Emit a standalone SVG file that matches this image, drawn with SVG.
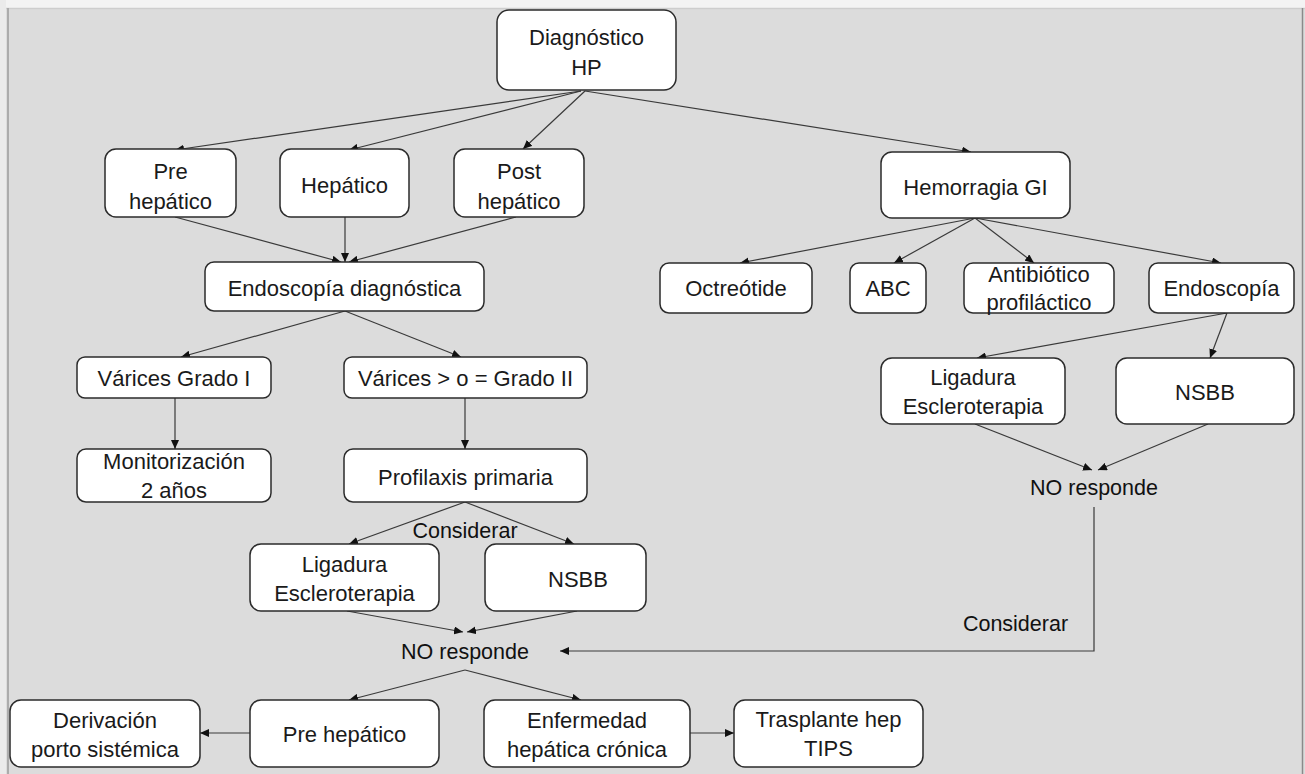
<svg xmlns="http://www.w3.org/2000/svg" width="1305" height="774" viewBox="0 0 1305 774">
<defs>
<style>
.box{fill:#ffffff;stroke:#2b2b2b;stroke-width:1.5}
.t{font-family:"Liberation Sans",Arial,sans-serif;font-size:22px;fill:#1a1a1a;text-anchor:middle}
.l{font-family:"Liberation Sans",Arial,sans-serif;font-size:21.5px;fill:#111;text-anchor:middle}
.c{fill:none;stroke:#3a3a3a;stroke-width:1.2}
</style>
<marker id="ah" markerUnits="userSpaceOnUse" markerWidth="10" markerHeight="8" refX="9" refY="4" orient="auto">
<path d="M0,0 L9,4 L0,8 z" fill="#111"/>
</marker>
</defs>
<rect x="0" y="0" width="1305" height="774" fill="#dcdcdc"/>
<rect x="0" y="0" width="1305" height="8" fill="#f3f3f3"/>
<line x1="0" y1="8.5" x2="1305" y2="8.5" stroke="#cdcdcd" stroke-width="1.5"/>
<rect x="0" y="0" width="6" height="774" fill="#ebebeb"/>
<line x1="8" y1="8" x2="8" y2="774" stroke="#acacac" stroke-width="2"/>
<line x1="1302.5" y1="8" x2="1302.5" y2="774" stroke="#8a8a8a" stroke-width="1.5"/>

<g id="connectors">
<line class="c" x1="581" y1="91" x2="175" y2="150" marker-end="url(#ah)"/>
<line class="c" x1="581" y1="91" x2="349" y2="150" marker-end="url(#ah)"/>
<line class="c" x1="585" y1="91" x2="523" y2="149" marker-end="url(#ah)"/>
<line class="c" x1="585" y1="91" x2="971" y2="152" marker-end="url(#ah)"/>
<line class="c" x1="175" y1="217" x2="341" y2="262" marker-end="url(#ah)"/>
<line class="c" x1="345" y1="217" x2="345" y2="262" marker-end="url(#ah)"/>
<line class="c" x1="516" y1="217" x2="349" y2="262" marker-end="url(#ah)"/>
<line class="c" x1="975" y1="218" x2="740" y2="263" marker-end="url(#ah)"/>
<line class="c" x1="975" y1="218" x2="894" y2="263" marker-end="url(#ah)"/>
<line class="c" x1="975" y1="218" x2="1034" y2="263" marker-end="url(#ah)"/>
<line class="c" x1="975" y1="218" x2="1221" y2="263" marker-end="url(#ah)"/>
<line class="c" x1="345" y1="311" x2="181" y2="357" marker-end="url(#ah)"/>
<line class="c" x1="345" y1="311" x2="461" y2="357" marker-end="url(#ah)"/>
<line class="c" x1="175" y1="398" x2="175" y2="449" marker-end="url(#ah)"/>
<line class="c" x1="465" y1="398" x2="465" y2="449" marker-end="url(#ah)"/>
<line class="c" x1="1227" y1="313" x2="977" y2="358" marker-end="url(#ah)"/>
<line class="c" x1="1227" y1="313" x2="1210" y2="358" marker-end="url(#ah)"/>
<line class="c" x1="975" y1="424" x2="1092" y2="470" marker-end="url(#ah)"/>
<line class="c" x1="1208" y1="424" x2="1098" y2="470" marker-end="url(#ah)"/>
<line class="c" x1="465" y1="502" x2="349" y2="544" marker-end="url(#ah)"/>
<line class="c" x1="465" y1="502" x2="574" y2="544" marker-end="url(#ah)"/>
<line class="c" x1="347" y1="611" x2="463" y2="632" marker-end="url(#ah)"/>
<line class="c" x1="577" y1="611" x2="467" y2="632" marker-end="url(#ah)"/>
<polyline class="c" points="1094,507 1094,651 560,651" marker-end="url(#ah)"/>
<line class="c" x1="465" y1="670" x2="349" y2="700" marker-end="url(#ah)"/>
<line class="c" x1="465" y1="670" x2="581" y2="700" marker-end="url(#ah)"/>
<line class="c" x1="250" y1="733" x2="200" y2="733" marker-end="url(#ah)"/>
<line class="c" x1="690" y1="733" x2="734" y2="733" marker-end="url(#ah)"/>
</g>

<g id="diag"><rect class="box" x="497" y="10" width="179" height="80" rx="12"/><text class="t" x="586.5" y="45">Diagnóstico</text><text class="t" x="586.5" y="75">HP</text></g>
<g id="pre"><rect class="box" x="105" y="149" width="131" height="68" rx="11"/><text class="t" x="170.5" y="179">Pre</text><text class="t" x="170.5" y="209">hepático</text></g>
<g id="hep"><rect class="box" x="280" y="149" width="129" height="68" rx="11"/><text class="t" x="344.5" y="193">Hepático</text></g>
<g id="post"><rect class="box" x="454" y="149" width="130" height="68" rx="11"/><text class="t" x="519" y="179">Post</text><text class="t" x="519" y="209">hepático</text></g>
<g id="hemo"><rect class="box" x="881" y="152" width="189" height="66" rx="11"/><text class="t" x="975.5" y="195">Hemorragia GI</text></g>
<g id="endo_diag"><rect class="box" x="205" y="262" width="279" height="49" rx="9"/><text class="t" x="344.5" y="296">Endoscopía diagnóstica</text></g>
<g id="octreo"><rect class="box" x="660" y="263" width="152" height="50" rx="9"/><text class="t" x="736" y="296">Octreótide</text></g>
<g id="abc"><rect class="box" x="850" y="263" width="76" height="50" rx="9"/><text class="t" x="888" y="296">ABC</text></g>
<g id="antibio"><rect class="box" x="964" y="263" width="150" height="50" rx="9"/><text class="t" x="1039" y="282">Antibiótico</text><text class="t" x="1039" y="310">profiláctico</text></g>
<g id="endo"><rect class="box" x="1149" y="263" width="145" height="50" rx="9"/><text class="t" x="1221.5" y="296">Endoscopía</text></g>
<g id="var1"><rect class="box" x="77" y="357" width="194" height="41" rx="8"/><text class="t" x="174" y="386">Várices Grado I</text></g>
<g id="var2"><rect class="box" x="344" y="357" width="243" height="41" rx="8"/><text class="t" x="465.5" y="386">Várices &gt; o = Grado II</text></g>
<g id="lig_r"><rect class="box" x="881" y="358" width="184" height="66" rx="11"/><text class="t" x="973" y="385">Ligadura</text><text class="t" x="973" y="414">Escleroterapia</text></g>
<g id="nsbb_r"><rect class="box" x="1116" y="358" width="178" height="66" rx="11"/><text class="t" x="1205" y="400">NSBB</text></g>
<g id="nores_r"><text class="l" x="1094" y="495">NO responde</text></g>
<g id="monit"><rect class="box" x="77" y="449" width="194" height="53" rx="9"/><text class="t" x="174" y="469">Monitorización</text><text class="t" x="174" y="498">2 años</text></g>
<g id="profil"><rect class="box" x="344" y="449" width="243" height="53" rx="9"/><text class="t" x="465.5" y="485">Profilaxis primaria</text></g>
<g id="consid_l"><text class="l" x="465" y="538">Considerar</text></g>
<g id="lig_l"><rect class="box" x="250" y="544" width="189" height="67" rx="11"/><text class="t" x="344.5" y="572">Ligadura</text><text class="t" x="344.5" y="601">Escleroterapia</text></g>
<g id="nsbb_l"><rect class="box" x="485" y="544" width="161" height="67" rx="11"/><text class="t" x="578" y="587">NSBB</text></g>
<g id="nores_l"><text class="l" x="465" y="659">NO responde</text></g>
<g id="consid_r"><text class="l" x="1015.5" y="631">Considerar</text></g>
<g id="deriv"><rect class="box" x="10" y="700" width="190" height="67" rx="11"/><text class="t" x="105" y="728">Derivación</text><text class="t" x="105" y="757">porto sistémica</text></g>
<g id="preh2"><rect class="box" x="250" y="700" width="189" height="67" rx="11"/><text class="t" x="344.5" y="742">Pre hepático</text></g>
<g id="enferm"><rect class="box" x="484" y="700" width="206" height="67" rx="11"/><text class="t" x="587" y="728">Enfermedad</text><text class="t" x="587" y="757">hepática crónica</text></g>
<g id="traspl"><rect class="box" x="734" y="700" width="189" height="67" rx="11"/><text class="t" x="828.5" y="727">Trasplante hep</text><text class="t" x="828.5" y="756">TIPS</text></g>
</svg>
